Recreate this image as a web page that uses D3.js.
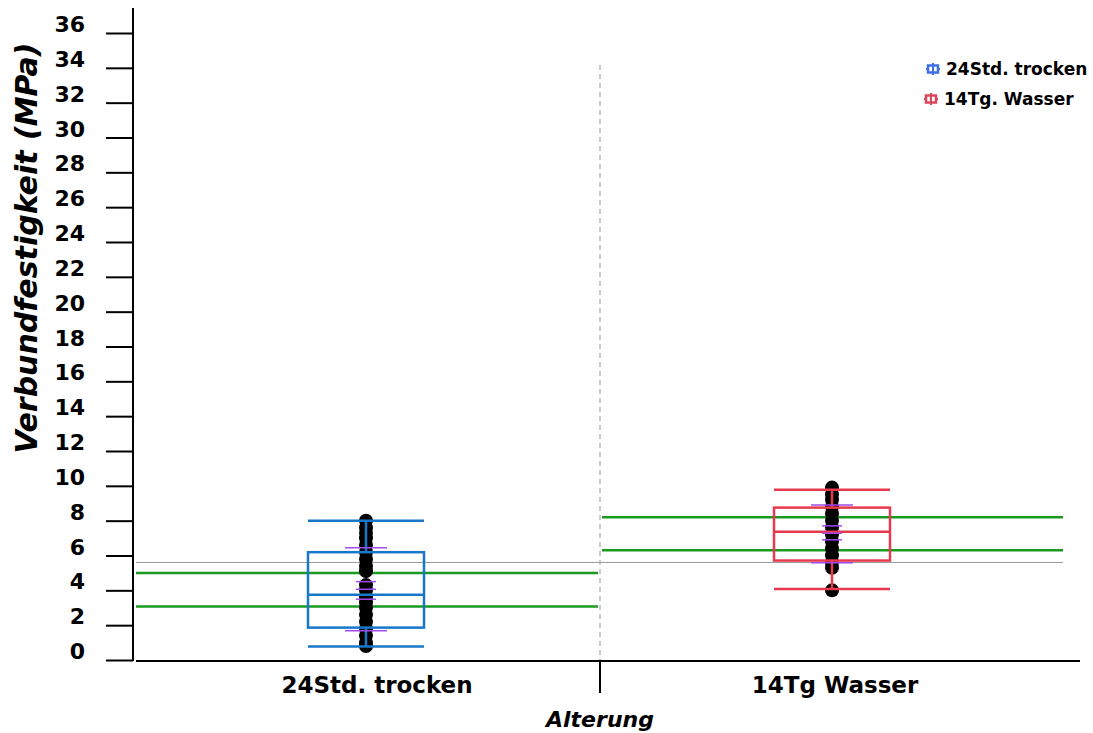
<!DOCTYPE html>
<html>
<head>
    <meta charset="utf-8" />
    <script src="https://d3js.org/d3.v7.min.js"></script>
    <style>
        body { margin: 0; background: #fff; }
        text { font-family: "DejaVu Sans", sans-serif; font-weight: bold; }
    </style>
</head>
<body>
<svg id="svg"></svg>
<script>

// data
let categories = ["24Std. trocken", "14Tg Wasser"];
let legendNames = ["24Std. trocken", "14Tg. Wasser"];
let boxColors = ["#1877c9", "#e83a4e"];
let legendColors = ["#3f6fe6", "#d9475c"];

// [lower whisker, q1, median, q3, upper whisker]
let boxStats = [
    [0.77, 1.86, 3.74, 6.19, 8.0],
    [4.08, 5.71, 7.36, 8.75, 9.77]
];

let points = [
    [8.0, 7.6, 7.3, 7.0, 6.6, 6.2, 5.8, 5.4, 5.1, 4.3, 4.0, 3.6, 3.3, 3.0, 2.6, 2.2, 1.8, 1.4, 1.0, 0.8],
    [9.9, 9.5, 9.2, 8.8, 8.4, 8.0, 7.6, 7.2, 6.8, 6.4, 6.0, 5.6, 5.3, 4.0]
];

// purple marks: wide ones (mean +/- sd) and narrow ones (mean, +/- se)
let wideMarks = [[6.45, 1.68], [8.9, 5.59]];
let narrowMarks = [[4.5, 4.06, 3.49], [7.7, 7.28, 6.9]];

// green lines per group
let greenLines = [[5.0, 3.07], [8.2, 6.3]];
let grandMean = 5.6;

let yTicks = d3.range(0, 37, 2);

let W = 1093, H = 733;
let svg = d3.select("#svg").attr("width", W).attr("height", H);

let y = d3.scaleLinear().domain([0, 36]).range([660, 33]);
let x = d3.scalePoint().domain(categories).range([133, 1065]).padding(0.5);
let boxW = 116;

// y axis
let yAxis = d3.axisLeft(y).tickValues(yTicks).tickSize(27).tickPadding(0).tickFormat("");
let gy = svg.append("g").attr("transform", "translate(133,0)").call(yAxis);
gy.select(".domain").remove();
gy.selectAll(".tick line").attr("stroke", "#000").attr("stroke-width", 2);
svg.append("line")
    .attr("x1", 133).attr("x2", 133).attr("y1", 8).attr("y2", 661)
    .attr("stroke", "#000").attr("stroke-width", 2);

svg.selectAll(".ylab")
    .data(yTicks)
    .enter()
    .append("text")
    .attr("x", 85)
    .attr("y", d => y(d) - 1)
    .attr("text-anchor", "end")
    .style("font-size", "22px")
    .text(d => d);

// x axis
svg.append("line")
    .attr("x1", 136).attr("x2", 1080).attr("y1", 661).attr("y2", 661)
    .attr("stroke", "#000").attr("stroke-width", 2);
svg.append("line")
    .attr("x1", 600).attr("x2", 600).attr("y1", 661).attr("y2", 693)
    .attr("stroke", "#000").attr("stroke-width", 2);

// divider
svg.append("line")
    .attr("x1", 600).attr("x2", 600).attr("y1", 65).attr("y2", 660)
    .attr("stroke", "#bbb").attr("stroke-width", 1.5)
    .attr("stroke-dasharray", "5,4");

// grand mean line
svg.append("line")
    .attr("x1", 136).attr("x2", 1063).attr("y1", y(grandMean)).attr("y2", y(grandMean))
    .attr("stroke", "#999").attr("stroke-width", 1);

// green lines
categories.forEach((c, i) => {
    let x0 = i == 0 ? 136 : 602;
    let x1 = i == 0 ? 598 : 1063;
    svg.selectAll(".green" + i)
        .data(greenLines[i])
        .enter()
        .append("line")
        .attr("x1", x0).attr("x2", x1)
        .attr("y1", d => y(d)).attr("y2", d => y(d))
        .attr("stroke", "#1a9a1f").attr("stroke-width", 2.5);
});

// boxes
categories.forEach((c, i) => {
    let cx = x(c);
    let s = boxStats[i];
    let col = boxColors[i];
    let g = svg.append("g");

    // points
    g.selectAll("circle")
        .data(points[i])
        .enter()
        .append("circle")
        .attr("cx", cx).attr("cy", d => y(d)).attr("r", 7)
        .attr("fill", "#000");

    // whisker lines
    g.append("line").attr("x1", cx).attr("x2", cx).attr("y1", y(s[4])).attr("y2", y(s[3]))
        .attr("stroke", col).attr("stroke-width", 2.5);
    g.append("line").attr("x1", cx).attr("x2", cx).attr("y1", y(s[1])).attr("y2", y(s[0]))
        .attr("stroke", col).attr("stroke-width", 2.5);

    // caps
    [s[0], s[4]].forEach(v => {
        g.append("line").attr("x1", cx - boxW / 2).attr("x2", cx + boxW / 2)
            .attr("y1", y(v)).attr("y2", y(v))
            .attr("stroke", col).attr("stroke-width", 2.5);
    });

    // box
    g.append("rect")
        .attr("x", cx - boxW / 2).attr("y", y(s[3]))
        .attr("width", boxW).attr("height", y(s[1]) - y(s[3]))
        .attr("fill", "none").attr("stroke", col).attr("stroke-width", 2.5);
    g.append("line").attr("x1", cx - boxW / 2).attr("x2", cx + boxW / 2)
        .attr("y1", y(s[2])).attr("y2", y(s[2]))
        .attr("stroke", col).attr("stroke-width", 2.5);

    // purple marks
    wideMarks[i].forEach(v => {
        g.append("line").attr("x1", cx - 21).attr("x2", cx + 21)
            .attr("y1", y(v)).attr("y2", y(v))
            .attr("stroke", "#a24af0").attr("stroke-width", 1.5);
    });
    narrowMarks[i].forEach(v => {
        g.append("line").attr("x1", cx - 10).attr("x2", cx + 10)
            .attr("y1", y(v)).attr("y2", y(v))
            .attr("stroke", "#a24af0").attr("stroke-width", 1.5);
    });
});

// category labels
svg.selectAll(".xlab")
    .data(categories)
    .enter()
    .append("text")
    .attr("x", (d, i) => x(d) + (i == 0 ? 11 : 3))
    .attr("y", 693)
    .attr("text-anchor", "middle")
    .style("font-size", "23px")
    .text(d => d);

// axis titles
svg.append("text")
    .attr("x", 600).attr("y", 727)
    .attr("text-anchor", "middle")
    .style("font-size", "22px").style("font-style", "italic")
    .text("Alterung");

svg.append("text")
    .attr("transform", "translate(37,248) rotate(-90)")
    .attr("text-anchor", "middle")
    .style("font-size", "30px").style("font-style", "italic")
    .text("Verbundfestigkeit (MPa)");

// legend
legendNames.forEach((n, i) => {
    let ly = 69 + i * 30;
    let lx = 926 - i * 2;
    let col = legendColors[i];
    let g = svg.append("g");
    g.append("line").attr("x1", lx).attr("x2", lx + 14).attr("y1", ly).attr("y2", ly)
        .attr("stroke", col).attr("stroke-width", 2);
    g.append("rect").attr("x", lx + 2).attr("y", ly - 3.5).attr("width", 10).attr("height", 7)
        .attr("fill", "#fff").attr("stroke", col).attr("stroke-width", 2.5);
    g.append("line").attr("x1", lx + 7).attr("x2", lx + 7).attr("y1", ly - 6).attr("y2", ly + 6)
        .attr("stroke", col).attr("stroke-width", 2);
    g.append("text")
        .attr("x", lx + 20).attr("y", ly + 6)
        .style("font-size", "17px")
        .text(n);
});

</script>
</body>
</html>
